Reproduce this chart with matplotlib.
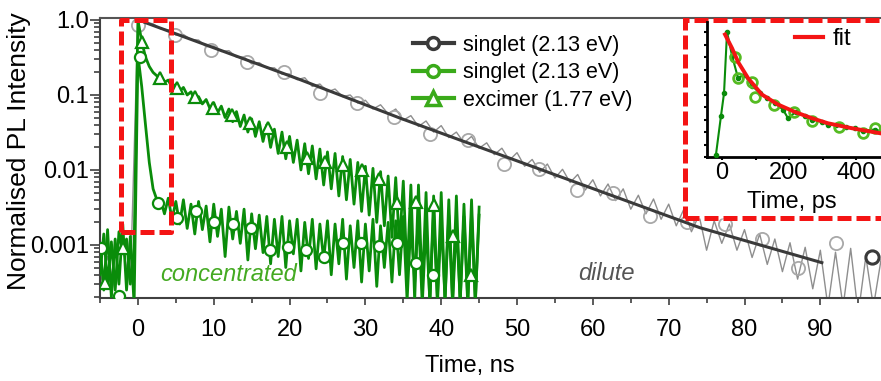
import numpy as np
import matplotlib
matplotlib.use("Agg")
import matplotlib.pyplot as plt
from matplotlib.lines import Line2D
from matplotlib.patches import Rectangle
from matplotlib.ticker import MultipleLocator, LogLocator, NullFormatter

plt.rcParams['font.family'] = ['Liberation Sans', 'DejaVu Sans']
fs = 17      # axis labels, tick labels, annotations
fs_leg = 15.5

# ---- data ----
# dilute film, raw trace (1 ns steps, -5 .. 98 ns)
dil_t = np.arange(-5, 99, 1.0)
dil_I = [3e-4, 7e-4, 2.5e-4, 9e-4, 3e-4, 1.0,
         0.93, 0.89, 0.76, 0.74, 0.63, 0.64, 0.55, 0.54, 0.44, 0.45,
         0.38, 0.39, 0.32, 0.32, 0.26, 0.27, 0.23, 0.23, 0.19, 0.19,
         0.16, 0.17, 0.13, 0.14, 0.11, 0.12, 0.095, 0.10, 0.078, 0.085,
         0.065, 0.074, 0.056, 0.065, 0.046, 0.053, 0.038, 0.045, 0.032, 0.039,
         0.027, 0.032, 0.023, 0.028, 0.0195, 0.023, 0.016, 0.0195, 0.0135, 0.017,
         0.0112, 0.0138, 0.0093, 0.012, 0.0078, 0.0102, 0.0068, 0.0087, 0.0054, 0.0074,
         0.0045, 0.0065, 0.0039, 0.0056, 0.0030, 0.0046, 0.0026, 0.0041, 0.0022, 0.0035,
         0.0018, 0.0030, 0.0015, 0.0025, 0.00085, 0.0021, 0.00105, 0.0019, 0.00085, 0.0016,
         0.00068, 0.0014, 0.00055, 0.0012, 0.00044, 0.00107, 0.00035, 0.00093, 0.00026, 0.00085,
         0.00015, 0.0008, 0.00015, 0.0009, 0.00012, 0.0007, 0.00015, 0.00063]
# dilute markers
dil_mt = [0.0, 4.9, 9.6, 14.4, 19.3, 24.0, 28.9, 33.8, 38.5, 43.5, 48.3,
          52.9, 57.9, 62.7, 67.5, 72.4, 77.4, 82.3, 87.1, 92.0, 96.8]
dil_mI = [0.86, 0.63, 0.40, 0.275, 0.20, 0.107, 0.078, 0.051, 0.030, 0.025, 0.012,
          0.0103, 0.0054, 0.0049, 0.0024, 0.0020, 0.0019, 0.0012, 0.00049, 0.00107, 0.00068]
# dilute fit
fit_t = [0.9, 21.4, 34.6, 74.1, 90.2]
fit_I = [0.93, 0.16, 0.049, 0.0017, 0.00058]

# concentrated film, raw traces (0.5 ns steps, -5 .. 45 ns)
conc_t = np.arange(-5, 45.01, 0.5)
sing_I = [1.0e-3, 2.5e-4, 1.6e-3, 2.0e-4, 1.2e-3, 3.0e-4, 1.9e-3, 2.5e-4, 1.3e-3, 1.6e-4,
          0.34, 0.13, 0.04, 0.0126, 0.0056, 0.0040,
          0.0040, 0.0026, 0.0042, 0.0022, 0.0038, 0.0019, 0.0040, 0.00166, 0.0035, 0.0014,
          0.0038, 0.0016, 0.0033, 0.0011, 0.0035, 0.0013, 0.0030, 0.0007, 0.0032, 0.0012,
          0.0028, 0.00105, 0.0030, 0.00063, 0.0026, 0.00089, 0.0025, 0.00079, 0.0024, 0.00056,
          0.0022, 0.0007, 0.0024, 0.0005, 0.0021, 0.00076, 0.0022, 0.00045, 0.0020, 0.00066,
          0.0022, 0.00048, 0.0019, 0.00063, 0.0021, 0.0004, 0.0019, 0.00056, 0.0022, 0.00035,
          0.0018, 0.0005, 0.0021, 0.00032, 0.0019, 0.00045, 0.0022, 0.00028, 0.0018, 0.0005,
          0.0020, 0.00032, 0.0021, 0.0004, 0.0024, 0.00018, 0.0020, 0.00032, 0.0025, 0.00016,
          0.0019, 0.00018, 0.0028, 0.00016, 0.0022, 0.0002, 0.0025, 0.00016, 0.0020, 0.00018,
          0.0024, 0.00016, 0.0026, 0.00018, 0.0025]
exc_I = [4e-4, 1.4e-3, 3e-4, 1.1e-3, 2.5e-4, 1.5e-3, 8e-4, 1.2e-3, 3e-4, 9e-4,
         1.0, 0.52, 0.32, 0.24, 0.20, 0.18,
         0.178, 0.148, 0.158, 0.126, 0.138, 0.112, 0.126, 0.100, 0.110, 0.085,
         0.095, 0.076, 0.087, 0.066, 0.079, 0.058, 0.071, 0.050, 0.065, 0.044,
         0.060, 0.038, 0.054, 0.032, 0.048, 0.028, 0.044, 0.024, 0.040, 0.020,
         0.035, 0.0166, 0.032, 0.0141, 0.028, 0.0126, 0.025, 0.010, 0.0224, 0.0089,
         0.0209, 0.0076, 0.019, 0.0063, 0.0174, 0.0056, 0.0166, 0.0045, 0.0151, 0.0040,
         0.0138, 0.0035, 0.0126, 0.0028, 0.0112, 0.0025, 0.0105, 0.0020, 0.0095, 0.0018,
         0.0083, 0.00126, 0.0079, 0.0010, 0.0071, 0.0004, 0.0063, 0.00018, 0.0063, 0.00025,
         0.0050, 0.00016, 0.0045, 0.0002, 0.0050, 0.00016, 0.0040, 0.00018, 0.0045, 0.00016,
         0.0035, 0.00018, 0.0040, 0.00016, 0.0032]
# concentrated markers
sing_mt = [-4.9, -2.45, 0.3, 2.6, 5.1, 7.6, 10.0, 12.5, 14.9, 17.4, 19.8,
           22.2, 24.5, 27.0, 29.4, 31.8, 34.2, 36.7, 38.9]
sing_mI = [9e-4, 2.1e-4, 0.32, 0.0036, 0.0023, 0.0028, 0.0020, 0.0019, 0.0017, 0.00086, 0.00094,
           0.00086, 0.00069, 0.00107, 0.00107, 0.00097, 0.00107, 0.00058, 0.0004]
exc_mt = [-4.4, -2.0, 0.5, 2.9, 5.1, 7.5, 9.9, 12.4, 14.8, 17.2, 19.7,
          22.3, 24.7, 27.0, 29.5, 31.8, 34.2, 36.7, 39.0, 41.6, 43.9]
exc_mI = [0.00031, 0.00091, 0.51, 0.17, 0.123, 0.094, 0.067, 0.054, 0.042, 0.036, 0.020,
          0.0145, 0.0128, 0.0117, 0.010, 0.0076, 0.0036, 0.0037, 0.0034, 0.0013, 0.0004]

# zoomed region box (ns, intensity)
box_t = [-2.25, 4.35]
box_I = [0.0015, 1.0]

# inset: first ~500 ps of the concentrated singlet
ins_t = [-18, -3, 6, 15, 30, 48, 66, 90, 113, 134, 158, 182, 197,
         220, 248, 270, 299, 316, 340, 370, 397, 420, 457, 480]
ins_y = [0.02, 0.33, 0.51, 1.0, 0.81, 0.63, 0.66, 0.57, 0.51, 0.47, 0.43, 0.38, 0.31,
         0.36, 0.33, 0.30, 0.28, 0.26, 0.26, 0.24, 0.23, 0.21, 0.22, 0.20]
ins_ct = [39, 48, 90, 98, 155, 215, 269, 349, 421, 457]
ins_cy = [0.80, 0.63, 0.60, 0.48, 0.42, 0.36, 0.29, 0.24, 0.19, 0.23]
ins_ft = [9, 30, 48, 78, 119, 167, 218, 269, 316, 388, 472]
ins_fy = [0.98, 0.87, 0.76, 0.63, 0.50, 0.42, 0.36, 0.31, 0.27, 0.23, 0.19]

green = '#0a8c0a'
lgreen = '#3aaa1a'
red = '#f41414'
dark = '#3a3a3a'
dash = (0, (2.8, 1.0))

fig = plt.figure(figsize=(8.81, 3.81), dpi=100)
ax = fig.add_axes([100/881, 1-298/381, 781/881, 280/381])

# dilute
ax.plot(dil_t, dil_I, color='#8e8e8e', lw=1.0, zorder=1)
ax.plot(dil_mt[:-1], dil_mI[:-1], 'o', ms=9.5, mfc='none', mec='#a8a8a8', mew=1.3, zorder=2)
ax.plot(dil_mt[-1:], dil_mI[-1:], 'o', ms=9.5, mfc='none', mec=dark, mew=2.2, zorder=2)
ax.plot(fit_t, fit_I, color=dark, lw=2.2, zorder=3)

# concentrated
ax.plot(conc_t, sing_I, color=green, lw=2.0, zorder=4)
ax.plot(conc_t, exc_I, color=green, lw=2.0, zorder=4)
ax.plot(sing_mt, sing_mI, 'o', ms=8, mfc='white', mec=green, mew=1.6, zorder=5)
ax.plot(exc_mt, exc_mI, '^', ms=9, mfc='white', mec=green, mew=1.6, zorder=5)

ax.plot([box_t[0], box_t[1], box_t[1], box_t[0], box_t[0]],
        [box_I[0], box_I[0], box_I[1], box_I[1], box_I[0]],
        color=red, lw=3.6, ls=dash, zorder=6, clip_on=False)

ax.text(2.9, 4.0e-4, 'concentrated', color='#44aa22', fontsize=fs, style='italic',
        ha='left', va='center')
ax.text(61.8, 4.2e-4, 'dilute', color='#555555', fontsize=fs, style='italic',
        ha='center', va='center')

ax.set_yscale('log')
ax.set_xlim(-5, 98)
ax.set_ylim(1.96e-4, 1.063)
ax.set_yticks([1e-3, 1e-2, 1e-1, 1])
ax.set_yticklabels(['0.001', '0.01', '0.1', '1.0'])
ax.yaxis.set_minor_locator(LogLocator(subs=np.arange(2, 10)))
ax.yaxis.set_minor_formatter(NullFormatter())
ax.set_xticks(np.arange(0, 91, 10))
ax.xaxis.set_minor_locator(MultipleLocator(5))

for s in ['left', 'bottom']:
    ax.spines[s].set_color('#404040')
    ax.spines[s].set_linewidth(1.5)
ax.spines['top'].set_color('#555555')
ax.spines['top'].set_linewidth(1.5)
ax.spines['right'].set_visible(False)
ax.tick_params(which='both', direction='out', top=False, right=False,
               color='#404040', width=1.2, labelsize=fs)
ax.tick_params(axis='y', which='major', length=7, pad=1)
ax.tick_params(axis='y', which='minor', length=4)
ax.tick_params(axis='x', which='major', length=5, pad=10)
ax.tick_params(axis='x', which='minor', length=3.5)

ax.set_xlabel('Time, ns', fontsize=fs)
ax.xaxis.set_label_coords(0.474, -0.205)
ax.set_ylabel('Normalised PL Intensity', fontsize=19)
ax.yaxis.set_label_coords(-0.088, 0.525)

handles = [
    Line2D([], [], color=dark, lw=3, marker='o', ms=8.5, mfc='white', mec=dark, mew=2.5),
    Line2D([], [], color=lgreen, lw=3, marker='o', ms=8.5, mfc='white', mec=lgreen, mew=2.5),
    Line2D([], [], color=lgreen, lw=3, marker='^', ms=9.5, mfc='white', mec=lgreen, mew=2.5),
]
ax.legend(handles, ['singlet (2.13 eV)', 'singlet (2.13 eV)', 'excimer (1.77 eV)'],
          loc='upper left', bbox_to_anchor=(413/881, 1-35/381), bbox_transform=fig.transFigure,
          frameon=False, fontsize=fs_leg, borderpad=0, borderaxespad=0,
          handlelength=1.9, handletextpad=0.4, labelspacing=0.3)

# inset frame
frame = Rectangle((685/881, 1-218/381), 0.3, 198/381, transform=fig.transFigure,
                  facecolor='white', edgecolor=red, lw=3.6, ls=dash, zorder=5)
fig.add_artist(frame)

axin = fig.add_axes([707/881, 1-157/381, 174/881, 135/381], zorder=6)
axin.patch.set_alpha(0)
axin.plot(ins_t, ins_y, color=green, lw=1.5, marker='o', ms=3, zorder=3)
axin.plot(ins_ct, ins_cy, 'o', ms=7, mfc='none', mec='#55bb22', mew=2, zorder=4)
axin.plot(ins_ft, ins_fy, color=red, lw=2.8, zorder=5)
axin.set_xlim(-44.8, 474.6)
axin.set_ylim(0, 1.08)
axin.set_xticks([0, 200, 400])
axin.xaxis.set_minor_locator(MultipleLocator(100))
axin.yaxis.set_major_locator(MultipleLocator(0.1))
axin.set_yticklabels([])
for s in ['top', 'right']:
    axin.spines[s].set_visible(False)
for s in ['left', 'bottom']:
    axin.spines[s].set_linewidth(2)
    axin.spines[s].set_color('black')
axin.tick_params(which='both', direction='out', length=2.5, width=1.5, labelsize=fs, pad=1)
axin.set_xlabel('Time, ps', fontsize=fs)
axin.xaxis.set_label_coords(0.489, -0.25)
axin.legend([Line2D([], [], color=red, lw=3)], ['fit'], loc='center left',
            bbox_to_anchor=(795/881, 1-39/381), bbox_transform=fig.transFigure,
            frameon=False, fontsize=fs, borderpad=0, borderaxespad=0,
            handlelength=1.2, handletextpad=0.4)

fig.savefig('out.png', dpi=100)
